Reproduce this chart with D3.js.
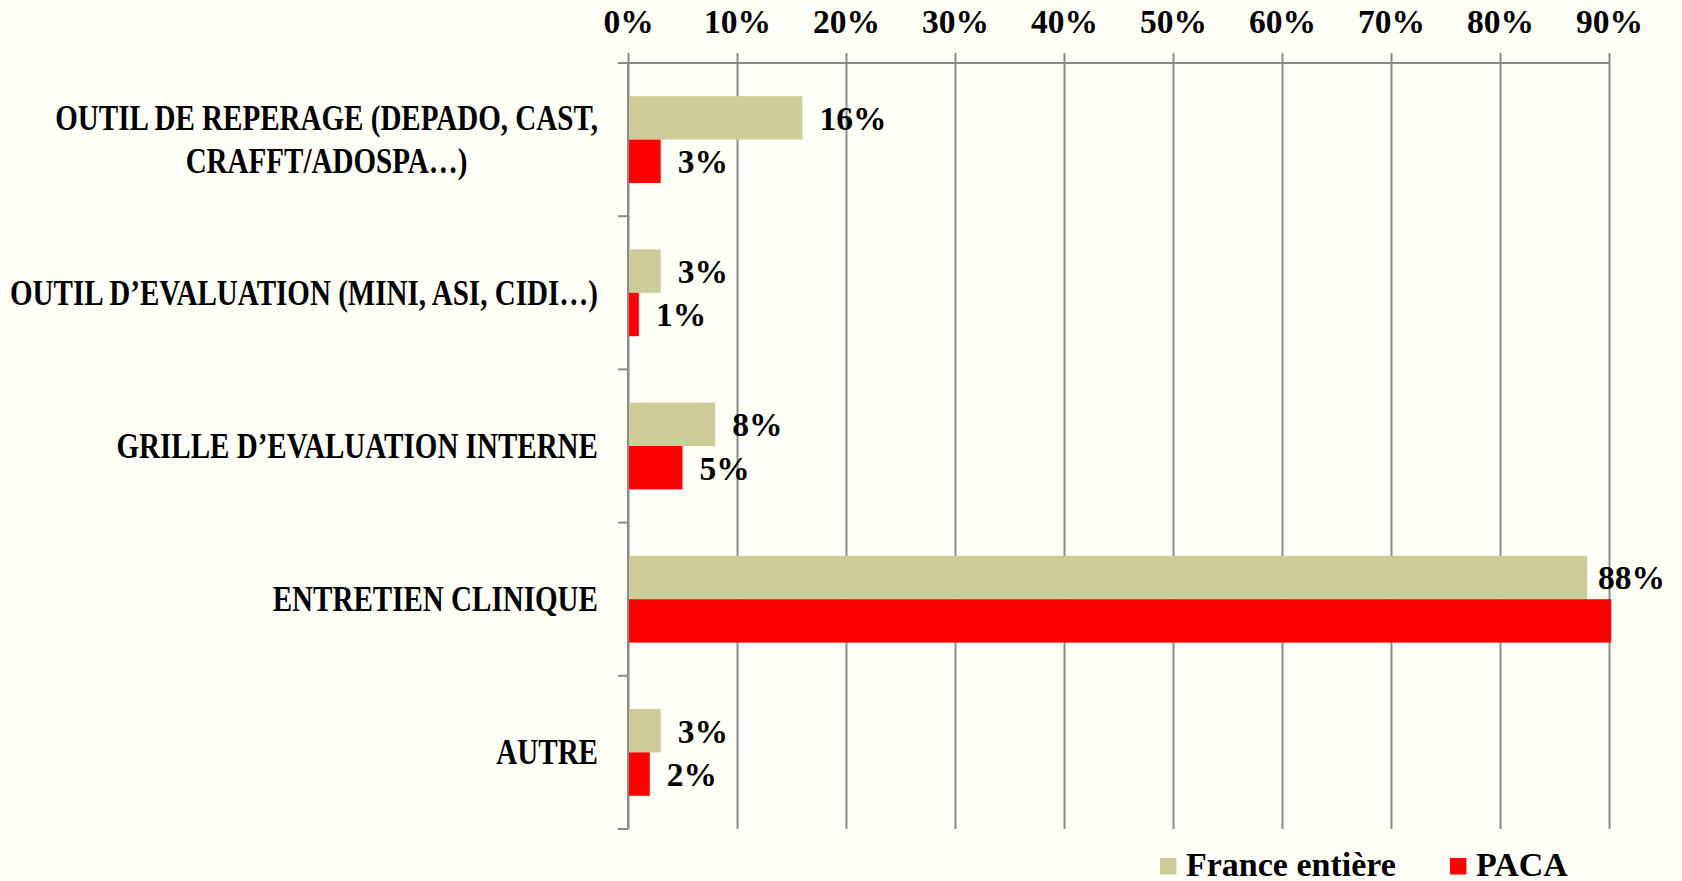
<!DOCTYPE html>
<html>
<head>
<meta charset="utf-8">
<script src="https://cdn.jsdelivr.net/npm/d3@7"></script>
<style>
  html, body { margin: 0; padding: 0; background: #fffff7; }
  svg { display: block; }
  text { font-family: "Liberation Serif", "DejaVu Serif", serif; font-weight: bold; fill: #000; }
</style>
</head>
<body>
<div id="chart"></div>
<script>
// DATA
var categories = [
  "OUTIL DE REPERAGE (DEPADO, CAST,\nCRAFFT/ADOSPA…)",
  "OUTIL D’EVALUATION (MINI, ASI, CIDI…)",
  "GRILLE D’EVALUATION INTERNE",
  "ENTRETIEN CLINIQUE",
  "AUTRE"
];
var seriesNames = ["France entière", "PACA"];
var franceValues = [16, 3, 8, 88, 3];
var pacaValues = [3, 1, 5, 90.2, 2];
var pacaLabelShown = [true, true, true, false, true];
var tickValues = [0, 10, 20, 30, 40, 50, 60, 70, 80, 90];
var colors = ["#cdcb98", "#ff0000"];

var width = 1682,
    height = 881;
var margin = {top: 63, right: 73, bottom: 52, left: 628};

var svg = d3.select("#chart").append("svg")
    .attr("width", width)
    .attr("height", height);

svg.append("rect")
    .attr("width", width)
    .attr("height", height)
    .attr("fill", "#fffff7");

// SCALES
var x = d3.scaleLinear()
    .domain([0, 90])
    .range([margin.left, width - margin.right]);

var y = d3.scaleBand()
    .domain(categories)
    .range([margin.top, height - margin.bottom])
    .paddingInner(0)
    .paddingOuter(0);

var ySub = d3.scaleBand()
    .domain([0, 1])
    .range([0, y.bandwidth()])
    .paddingOuter(0.765);

var plotBottom = height - margin.bottom;

// GRID + TOP AXIS
var xAxis = d3.axisTop(x)
    .tickValues(tickValues)
    .tickFormat(function(d) { return d + "%"; })
    .tickSize(10)
    .tickPadding(20);

var gx = svg.append("g")
    .attr("transform", "translate(0," + margin.top + ")")
    .call(xAxis);

gx.select(".domain").remove();
gx.selectAll(".tick line")
    .attr("y2", -10)
    .attr("y1", plotBottom - margin.top)
    .attr("stroke", "#8a8a8a")
    .attr("stroke-width", 2);
gx.selectAll(".tick text")
    .attr("font-size", 33.5)
    .attr("font-family", "Liberation Serif")
    .attr("font-weight", "bold")
    .attr("fill", "#000");

svg.append("line")
    .attr("x1", margin.left - 10)
    .attr("x2", x(90) + 1)
    .attr("y1", margin.top)
    .attr("y2", margin.top)
    .attr("stroke", "#8a8a8a")
    .attr("stroke-width", 2);

// LEFT AXIS (line + boundary ticks)
svg.append("line")
    .attr("x1", margin.left)
    .attr("x2", margin.left)
    .attr("y1", margin.top)
    .attr("y2", plotBottom)
    .attr("stroke", "#8a8a8a")
    .attr("stroke-width", 2);

var bounds = categories.map(function(c) { return y(c); }).concat([plotBottom]);
svg.append("g").selectAll("line")
    .data(bounds)
    .enter().append("line")
    .attr("x1", margin.left - 10)
    .attr("x2", margin.left)
    .attr("y1", function(d) { return d; })
    .attr("y2", function(d) { return d; })
    .attr("stroke", "#8a8a8a")
    .attr("stroke-width", 2);

// BARS
var rows = categories.map(function(c, i) {
  return {cat: c, values: [franceValues[i], pacaValues[i]], shown: [true, pacaLabelShown[i]]};
});

var group = svg.append("g").selectAll("g")
    .data(rows)
    .enter().append("g")
    .attr("transform", function(d) { return "translate(0," + y(d.cat) + ")"; });

group.selectAll("rect")
    .data(function(d) { return d.values; })
    .enter().append("rect")
    .attr("x", x(0) + 1)
    .attr("y", function(d, i) { return ySub(i); })
    .attr("width", function(d) { return x(d) - x(0) - 1; })
    .attr("height", ySub.bandwidth())
    .attr("fill", function(d, i) { return colors[i]; });

// VALUE LABELS
var labelLimit = 1665;
group.selectAll("text.value")
    .data(function(d) { return d.values.map(function(v, i) { return {v: v, i: i, shown: d.shown[i]}; }); })
    .enter().filter(function(d) { return d.shown; })
    .append("text")
    .attr("class", "value")
    .attr("font-size", 33.5)
    .attr("y", function(d) { return ySub(d.i) + ySub.bandwidth() / 2 + 12; })
    .text(function(d) { return Math.round(d.v) + "%"; })
    .attr("x", function(d) {
      var w = this.getComputedTextLength();
      return Math.min(x(d.v) + 17, labelLimit - w);
    });

// CATEGORY LABELS
var labelRight = 598;
var sx = 0.83;
categories.forEach(function(c) {
  var lines = c.split("\n");
  var lh = 43;
  var cy = y(c) + y.bandwidth() / 2;
  var g = svg.append("g");
  var t = g.append("text")
      .attr("font-size", 35)
      .attr("text-anchor", "middle");
  lines.forEach(function(l, k) {
    t.append("tspan")
      .attr("x", 0)
      .attr("y", (k - (lines.length - 1) / 2) * lh + 12)
      .text(l);
  });
  var w = t.node().getBBox().width;
  g.attr("transform", "translate(" + (labelRight - w * sx / 2) + "," + cy + ") scale(" + sx + ",1)");
});

// LEGEND
var legend = svg.append("g");
var lx = 1160;
seriesNames.forEach(function(name, i) {
  legend.append("rect")
      .attr("x", lx)
      .attr("y", 858)
      .attr("width", 16.5)
      .attr("height", 16.5)
      .attr("fill", colors[i]);
  var t = legend.append("text")
      .attr("x", lx + 26)
      .attr("y", 876)
      .attr("font-size", 34)
      .text(name);
  lx = lx + 26 + t.node().getComputedTextLength() + 54;
});
</script>
</body>
</html>
